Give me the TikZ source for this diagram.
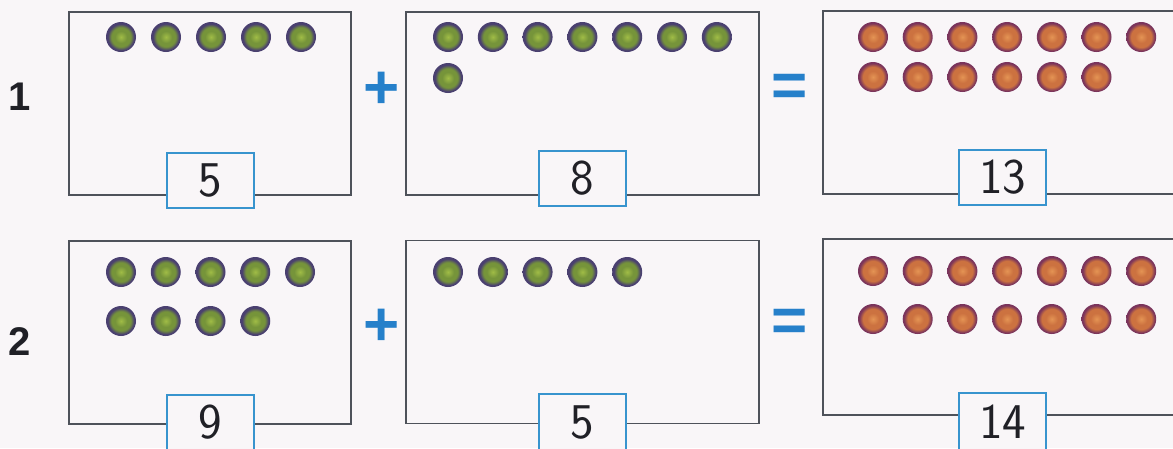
\documentclass[tikz,border=0pt]{standalone}
\usepackage{fontspec}
\newfontfamily\rowfont{Liberation Sans}
\usetikzlibrary{calc}
\definecolor{papercol}{RGB}{249,246,248}
\definecolor{framecol}{RGB}{78,82,90}
\definecolor{tagblue}{RGB}{56,148,206}
\definecolor{opblue}{RGB}{38,128,202}
\definecolor{inkcol}{RGB}{32,32,38}
\definecolor{greenA}{RGB}{160,188,70}
\definecolor{greenB}{RGB}{118,148,58}
\definecolor{greenR}{RGB}{74,64,112}
\definecolor{orangeA}{RGB}{228,148,84}
\definecolor{orangeB}{RGB}{204,114,64}
\definecolor{orangeR}{RGB}{122,52,92}
\pgfdeclareradialshading{greendot}{\pgfpoint{0bp}{0bp}}{color(0bp)=(greenA); color(10bp)=(greenB); color(16bp)=(greenB); color(22bp)=(greenR); color(25bp)=(greenR); color(50bp)=(greenR)}
\pgfdeclareradialshading{orangedot}{\pgfpoint{0bp}{0bp}}{color(0bp)=(orangeA); color(10bp)=(orangeB); color(17bp)=(orangeB); color(23bp)=(orangeR); color(25bp)=(orangeR); color(50bp)=(orangeR)}
\tikzset{every node/.append style={inner sep=0pt}}

\begin{document}
\begin{tikzpicture}[x=1pt,y=-1pt,
  bigbox/.style={draw=framecol,line width=1.3pt,minimum width=282pt,minimum height=183pt},
  widebox/.style={bigbox,minimum width=357pt},
  numbox/.style={draw=tagblue,line width=2pt,fill=papercol,minimum width=87pt,minimum height=55pt,
                 text=inkcol,font=\sffamily\fontsize{50}{50}\selectfont},
  rowlab/.style={text=inkcol,font=\rowfont\bfseries\fontsize{40}{40}\selectfont},
  opsign/.style={text=opblue,font=\rowfont\bfseries\fontsize{62}{62}\selectfont},
  gdot/.style={shading=greendot},
  odot/.style={shading=orangedot}]
\useasboundingbox (0,0) rectangle (1173,448);
\clip (0,0) rectangle (1173,448);
\fill[papercol] (0,0) rectangle (1173,448);
% row 1
\node[rowlab] (lab1) at (20,97) {1};
\node[bigbox] (r1a) at (210,103.5) {};
\node[widebox,minimum width=353pt] (r1b) at (582.5,103.5) {};
\node[widebox] (r1c) at (1001.5,102.5) {};
\node[opsign] (plus1) at (382,90) {+};
\node[opsign] (eq1) at (790,90) {=};
\foreach \i in {0,...,4} \shade[gdot] ({121+45*\i},37) circle[radius=15pt];
\foreach \i in {0,...,6} \shade[gdot] ({448+44.8*\i},37) circle[radius=15pt];
\shade[gdot] (448,78) circle[radius=15pt];
\foreach \i in {0,...,6} \shade[odot] ({873+44.7*\i},37) circle[radius=15pt];
\foreach \i in {0,...,5} \shade[odot] ({873+44.7*\i},77) circle[radius=15pt];
\node[numbox] (n1a) at (210.5,180) {5};
\node[numbox] (n1b) at (582.5,178.5) {8};
\node[numbox] (n1c) at (1002.5,177) {13};
% row 2
\node[rowlab] (lab2) at (20,342) {2};
\node[bigbox] (r2a) at (210,332.5) {};
\node[widebox,minimum width=353pt] (r2b) at (582.5,332) {};
\node[widebox,minimum height=176pt] (r2c) at (1001.5,327) {};
\node[opsign] (plus2) at (382,327) {+};
\node[opsign] (eq2) at (790,325) {=};
\foreach \i in {0,...,4} \shade[gdot] ({121+44.75*\i},272) circle[radius=15pt];
\foreach \i in {0,...,3} \shade[gdot] ({121+44.75*\i},321) circle[radius=15pt];
\foreach \i in {0,...,4} \shade[gdot] ({448+44.8*\i},272) circle[radius=15pt];
\foreach \i in {0,...,6} \shade[odot] ({873+44.7*\i},271) circle[radius=15pt];
\foreach \i in {0,...,6} \shade[odot] ({873+44.7*\i},319) circle[radius=15pt];
\node[numbox,minimum height=60pt] (n2a) at (210.5,425) {\raisebox{6pt}{9}};
\node[numbox,minimum height=60pt] (n2b) at (582.5,424) {\raisebox{3pt}{5}};
\node[numbox,minimum height=60pt] (n2c) at (1002.5,423) {\raisebox{3pt}{14}};
\end{tikzpicture}
\end{document}
